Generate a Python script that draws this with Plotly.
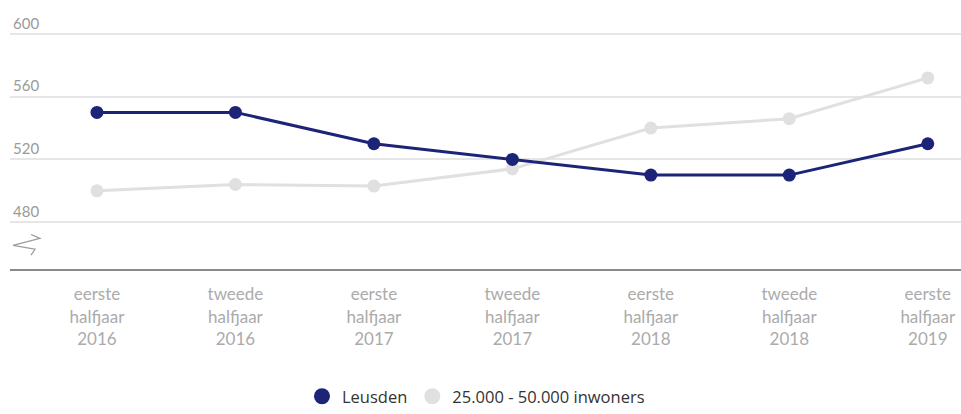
import plotly.graph_objects as go

# perioden (x-as)
periods = ["eerste<br>halfjaar<br>2016", "tweede<br>halfjaar<br>2016",
           "eerste<br>halfjaar<br>2017", "tweede<br>halfjaar<br>2017",
           "eerste<br>halfjaar<br>2018", "tweede<br>halfjaar<br>2018",
           "eerste<br>halfjaar<br>2019"]
leusden = [550, 550, 530, 520, 510, 510, 530]
inwoners_25_50k = [500, 504, 503, 514, 540, 546, 572]
y_ticks = [480, 520, 560, 600]

navy = "#1b2477"
grey = "#e0e0e0"
idx = list(range(len(periods)))

fig = go.Figure()
fig.add_trace(go.Scatter(x=idx, y=inwoners_25_50k, mode="lines+markers",
                         line=dict(color=grey, width=3),
                         marker=dict(color=grey, size=13),
                         name="25.000 - 50.000 inwoners", showlegend=False))
fig.add_trace(go.Scatter(x=idx, y=leusden, mode="lines+markers",
                         line=dict(color=navy, width=3),
                         marker=dict(color=navy, size=13),
                         name="Leusden", showlegend=False))
# legend-only markers
fig.add_trace(go.Scatter(x=[None], y=[None], mode="markers",
                         marker=dict(color=navy, size=18), name="Leusden"))
fig.add_trace(go.Scatter(x=[None], y=[None], mode="markers",
                         marker=dict(color=grey, size=18),
                         name="25.000 - 50.000 inwoners"))

# as-onderbreking (zigzag), page pixels -> paper
pts = [(31, 238), (40, 242), (13, 249), (35, 253), (31, 259)]
path = ""
for i, (px, py) in enumerate(pts):
    xp = (px - 10) / 951
    yp = (273 - py) / 273
    path += ("M" if i == 0 else "L") + f" {xp:.4f},{yp:.4f} "
fig.add_shape(type="path", path=path, xref="paper", yref="paper",
              line=dict(color="#9a9a9a", width=1.2))

fig.update_layout(
    width=961, height=414,
    margin=dict(l=10, r=0, t=0, b=141),
    plot_bgcolor="white", paper_bgcolor="white",
    font=dict(family="Open Sans", color="#333"),
    legend=dict(orientation="h", x=0.49, xanchor="center", y=-0.476,
                yanchor="middle", font=dict(size=16.5, color="#333"),
                itemsizing="trace"),
    xaxis=dict(range=[-0.628, 6.24], tickvals=idx, ticktext=periods,
               showgrid=False, zeroline=False, showline=True,
               linecolor="#8a8a8a", linewidth=2, ticklabelstandoff=9,
               tickfont=dict(family="Lato", size=17, color="#ababab"),
               ticks=""),
    yaxis=dict(range=[450.1, 621.7], tickvals=y_ticks,
               ticklabelposition="inside top",
               tickfont=dict(family="Lato", size=15, color="#9a9a9a"),
               showgrid=True, gridcolor="#e6e6e6", gridwidth=1.5,
               zeroline=False, showline=False, ticks=""),
)

# no body margin / scrollbars so the 961x414 figure fills the window
fig.write_html("out.html", config={"displayModeBar": False}, post_script=(
    "document.body.style.margin='0';"
    "document.documentElement.style.overflow='hidden';"))
